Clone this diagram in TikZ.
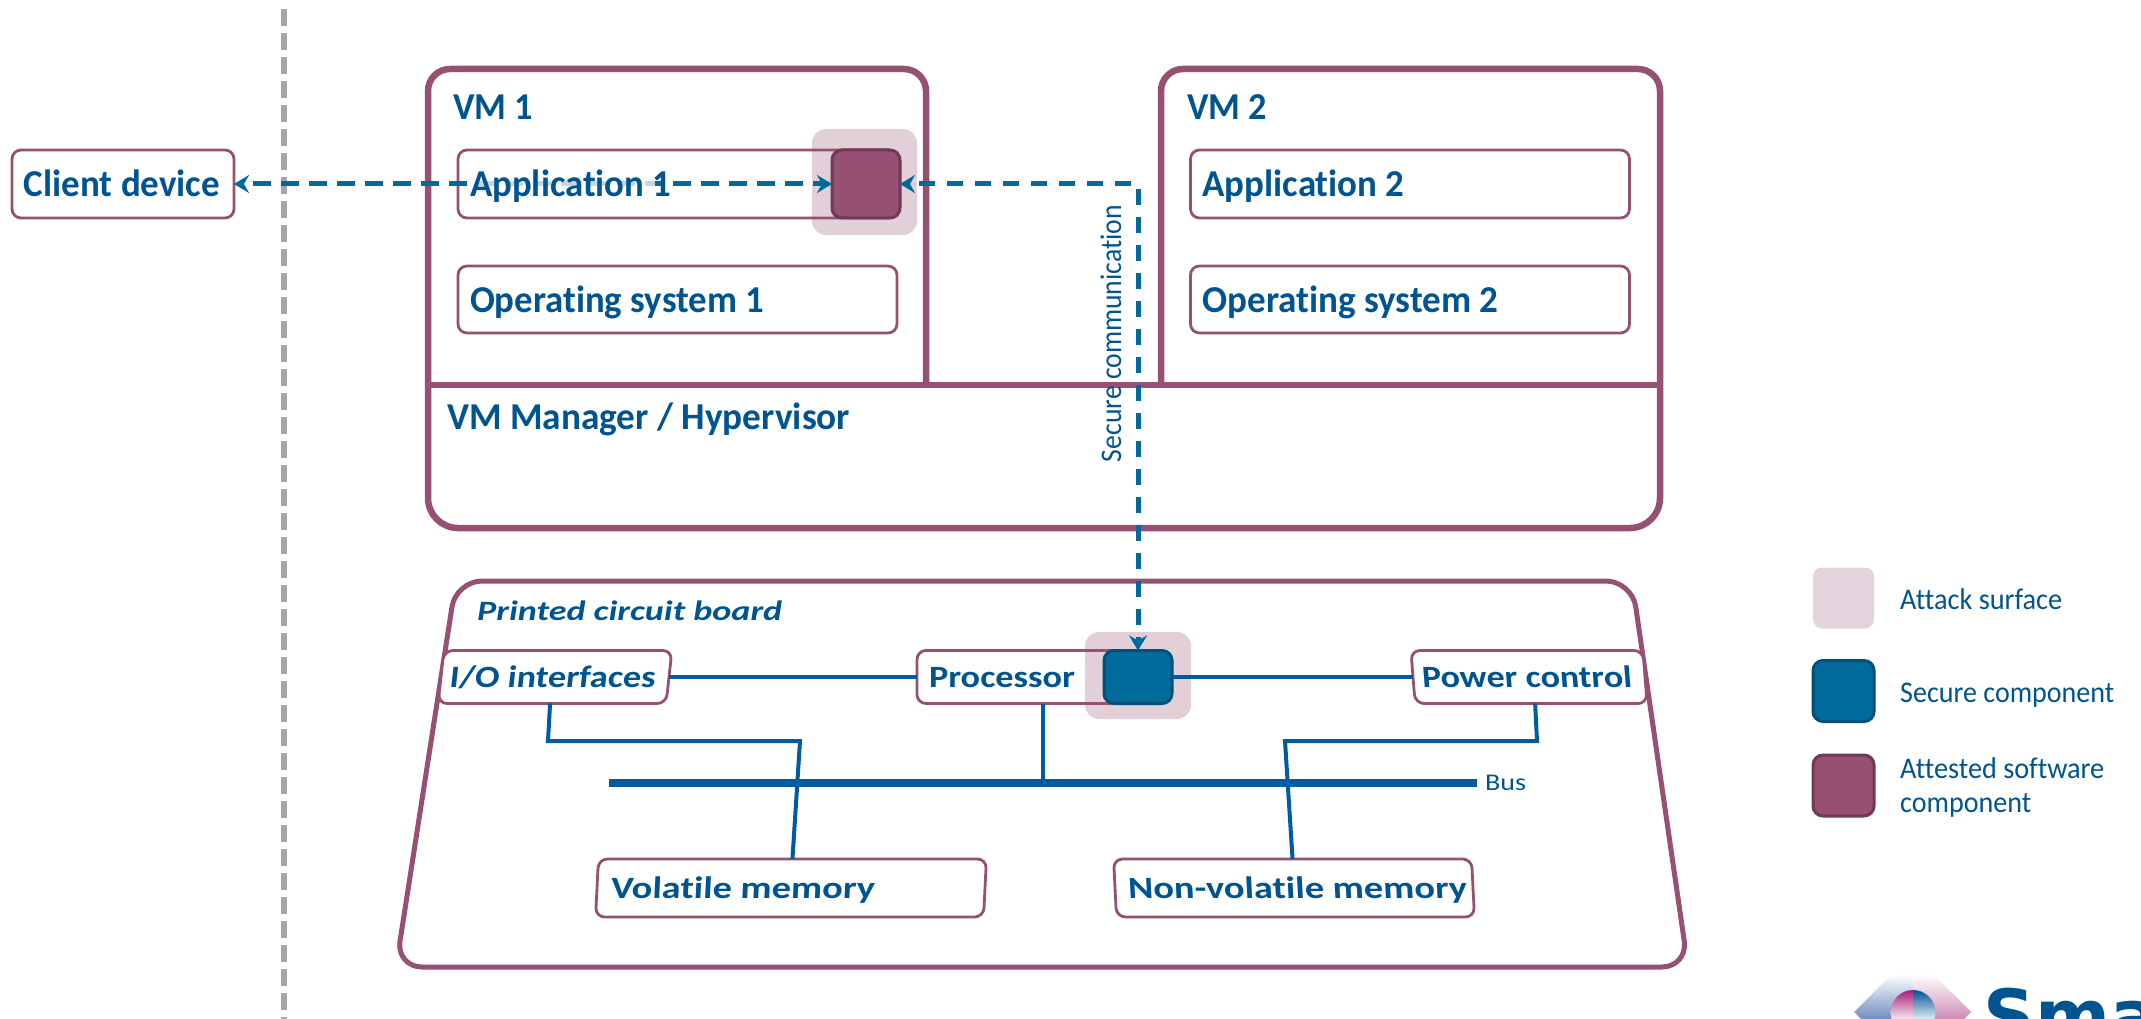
\documentclass[tikz,border=0pt]{standalone}
\usepackage{fontspec}
\usepackage{graphicx}
\setmainfont[Ligatures=NoCommon]{Carlito}
\newfontfamily\logofont{DejaVu Sans}
\usetikzlibrary{arrows.meta,calc}
\definecolor{plum}{HTML}{955072}
\definecolor{plumdark}{HTML}{6E3A55}
\definecolor{pale}{HTML}{E3D3DC}
\definecolor{teal}{HTML}{006B9B}
\definecolor{tealdark}{HTML}{00517A}
\definecolor{ink}{HTML}{00548F}
\definecolor{wire}{HTML}{005CA0}
\definecolor{divider}{HTML}{A6A6A6}
\definecolor{logoblue}{RGB}{112,142,192}
\definecolor{logopink}{RGB}{206,140,182}
\definecolor{logomag}{RGB}{168,32,124}
\definecolor{logomagl}{RGB}{248,228,240}
\definecolor{logonavy}{RGB}{0,84,150}
\definecolor{logonavyl}{RGB}{226,234,245}
\newcommand{\fitw}[2]{\resizebox{#1pt}{\height}{#2}}
\newcommand{\boxlbl}[3]{\makebox[#1pt][l]{\hspace{#2pt}#3}}
\tikzset{
  x=1pt,y=-1pt,
  heavy/.style={draw=plum,line width=6.5pt,fill=white,rounded corners=22pt},
  pcb/.style={draw=plum,line width=5pt,fill=white,rounded corners=26pt},
  box/.style={draw=plum,line width=2.8pt,fill=white,rounded corners=9pt,inner sep=0pt,outer sep=0pt,
    text=ink,font=\fontsize{38}{42}\selectfont\bfseries,text height=30pt,text depth=5pt},
  boardbox/.style={box,font=\fontsize{31}{34}\selectfont\bfseries,text height=24pt,text depth=4pt,minimum height=53pt},
  title/.style={anchor=base west,inner sep=0pt,text=ink,font=\fontsize{38}{42}\selectfont\bfseries},
  legendtext/.style={anchor=base west,inner sep=0pt,text=ink,font=\fontsize{30}{34}\selectfont},
  surface/.style={fill=plum,fill opacity=.27,draw=none,rounded corners=14pt,inner sep=0pt,outer sep=0pt},
  attested/.style={fill=plum,draw=plumdark,line width=3pt,rounded corners=10pt,inner sep=0pt,outer sep=0pt},
  securepart/.style={fill=teal,draw=tealdark,line width=3pt,rounded corners=10pt,inner sep=0pt,outer sep=0pt},
  flow/.style={draw=teal,line width=5pt,dash pattern=on 16pt off 12pt,dash phase=18pt},
  twoway/.style={flow,arrows={Stealth[length=15pt,width=18pt,inset=5pt]-Stealth[length=15pt,width=18pt,inset=5pt]}},
  link/.style={draw=wire,line width=4pt,line join=miter},
}
\begin{document}
\begin{tikzpicture}
\useasboundingbox (0,0) rectangle (2141,1019);
% trust boundary
\coordinate (divtop) at (284,9);
\coordinate (divbot) at (284,1019);
\draw[divider,line width=6pt,dash pattern=on 17pt off 7pt] (divtop) -- (divbot);
% hypervisor and VMs
\draw[heavy,rounded corners=30pt] (428,385) -- (428,528) -- (1660,528) -- (1660,385);
\draw[plum,line width=6.5pt] (428,385) -- (1660,385);
\draw[heavy,fill=none] (428,385) -- (428,69) -- (926,69) -- (926,385);
\draw[heavy,fill=none] (1161,385) -- (1161,69) -- (1660,69) -- (1660,385);
\node[title] (vm1) at (453,120) {\fitw{80}{VM 1}};
\node[title] (vm2) at (1187,120) {\fitw{80}{VM 2}};
\node[title] (hyp) at (447,429) {\fitw{403}{VM Manager / Hypervisor}};
% client, applications
\node[box,minimum width=222pt,minimum height=68pt] (client) at (123,184) {\boxlbl{222}{12}{\fitw{196}{Client device}}};
\node[box,minimum width=439pt,minimum height=68pt] (app1) at (677.5,184) {};
\node[box,minimum width=439pt,minimum height=67pt] (os1) at (677.5,299.5) {\boxlbl{439}{12}{\fitw{294}{Operating system 1}}};
\node[box,minimum width=439pt,minimum height=68pt] (app2) at (1410,184) {\boxlbl{439}{12}{\fitw{202}{Application 2}}};
\node[box,minimum width=439pt,minimum height=67pt] (os2) at (1410,299.5) {\boxlbl{439}{12}{\fitw{296}{Operating system 2}}};
% PCB
\draw[pcb] (456,581) -- (1632,581) -- (1688,967) -- (396,967) -- cycle;
\node[anchor=base west,inner sep=0pt,text=ink,font=\fontsize{28}{32}\selectfont\bfseries\itshape] (pcbtitle) at (477,620) {\fitw{305}{Printed circuit board}};
\node[boardbox,xslant=.11,transform shape,minimum width=228pt] (io) at (555,677) {\boxlbl{228}{9}{\fitw{206}{I/O interfaces}}};
\node[boardbox,minimum width=226pt] (proc) at (1030,677) {\boxlbl{226}{12}{\fitw{146}{Processor}}};
\node[boardbox,xslant=-.08,transform shape,minimum width=232pt] (power) at (1529,677) {\boxlbl{232}{9}{\fitw{210}{Power control}}};
\node[boardbox,xslant=.05,transform shape,minimum width=388pt,minimum height=58pt] (vol) at (791,888) {\boxlbl{388}{14}{\fitw{264}{Volatile memory}}};
\node[boardbox,xslant=-.05,transform shape,minimum width=358pt,minimum height=58pt] (nvol) at (1294,888) {\boxlbl{358}{13}{\fitw{339}{Non-volatile memory}}};
% bus and board wiring
\coordinate (busL) at (609,783);
\coordinate (busR) at (1477,783);
\coordinate (ioA) at (548,741);
\coordinate (ioB) at (800,741);
\coordinate (pwA) at (1537,741);
\coordinate (pwB) at (1285,741);
\coordinate (procBus) at (1043,783);
\draw[wire,line width=8pt] (busL) -- (busR);
\node[anchor=west,inner sep=0pt,text=ink,font=\fontsize{24}{26}\selectfont] (bus) at (1485,783) {\fitw{41}{Bus}};
\draw[link] ([xshift=-2pt]io.south) -- (ioA) -- (ioB) -- (vol.north);
\draw[link] (proc.south -| procBus) -- (procBus);
\draw[link] ([xshift=4pt]power.south) -- (pwA) -- (pwB) -- (nvol.north);
% attack surfaces and components
\draw[link] (io.east) -- (proc.west);
\node[surface,minimum width=106pt,minimum height=87pt] (surf2) at (1138,675.5) {};
\node[securepart,minimum width=68pt,minimum height=53pt] (secure) at (1138,677) {};
\draw[link] (secure.east) -- (power.west);
\node[surface,minimum width=105pt,minimum height=106pt] (surf1) at (864.5,182) {};
\node[attested,minimum width=68pt,minimum height=68pt] (attest) at (866,184) {};
% flows
\draw[twoway,dash pattern=on 18pt off 10pt] (client.east) -- (attest.west);
\draw[twoway] (attest.east) -| (secure.north);
\fill[white,fill opacity=.75] (470,178) rectangle (655,190);
\node[title] (app1text) at (470,196.5) {\fitw{201}{Application 1}};
\node[anchor=base,inner sep=0pt,text=ink,font=\fontsize{30}{34}\selectfont,rotate=90] (seccomm) at (1121,333.5) {\fitw{257}{Secure communication}};
% legend
\node[fill=pale,draw=none,rounded corners=9pt,minimum size=61pt,inner sep=0pt] (lg1) at (1843.5,598) {};
\node[securepart,minimum size=61pt] (lg2) at (1843.5,691) {};
\node[attested,minimum size=61pt] (lg3) at (1843.5,785.5) {};
\node[legendtext] (lt1) at (1900,609) {\fitw{162}{Attack surface}};
\node[legendtext] (lt2) at (1900,702) {\fitw{214}{Secure component}};
\node[legendtext] (lt3) at (1900,778) {\fitw{204}{Attested software}};
\node[legendtext] (lt4) at (1900,812) {\fitw{131}{component}};
% logo
\begin{scope}
\clip (1840,960) rectangle (2141,1019);
\shade[top color=white,bottom color=logoblue] (1892,974) -- (1913,974) -- (1913,1019) -- (1861,1019) -- (1854,1012) -- cycle;
\shade[top color=white,bottom color=logopink] (1913,974) -- (1933,974) -- (1971,1012) -- (1964,1019) -- (1913,1019) -- cycle;
\begin{scope}
\clip (1913,1012.4) circle (22.4);
\shade[top color=logomag,bottom color=logomagl] (1890,990) rectangle (1913,1019);
\shade[top color=logonavy,bottom color=logonavyl] (1913,990) rectangle (1936,1019);
\end{scope}
\node[anchor=base west,inner sep=0pt,text=ink,font=\logofont\fontsize{72}{80}\selectfont\bfseries] (logo) at (1983,1041) {Sma};
\end{scope}
\end{tikzpicture}
\end{document}
